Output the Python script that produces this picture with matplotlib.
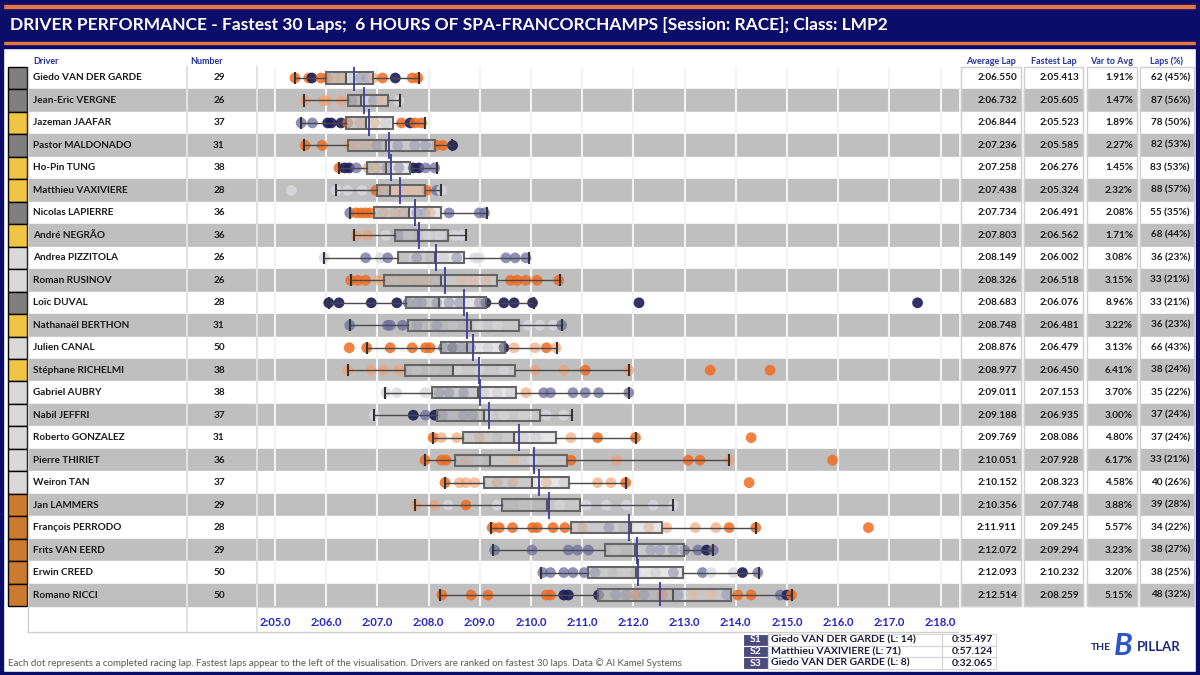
import matplotlib
matplotlib.use('Agg')
import matplotlib.pyplot as plt
from matplotlib.patches import Rectangle

plt.rcParams['font.family'] = ['Lato', 'DejaVu Sans']

title = 'DRIVER PERFORMANCE - Fastest 30 Laps;  6 HOURS OF SPA-FRANCORCHAMPS [Session: RACE]; Class: LMP2'

drivers = ['Giedo VAN DER GARDE', 'Jean-Eric VERGNE', 'Jazeman JAAFAR', 'Pastor MALDONADO',
           'Ho-Pin TUNG', 'Matthieu VAXIVIERE', 'Nicolas LAPIERRE', 'André NEGRÃO',
           'Andrea PIZZITOLA', 'Roman RUSINOV', 'Loïc DUVAL', 'Nathanaël BERTHON',
           'Julien CANAL', 'Stéphane RICHELMI', 'Gabriel AUBRY', 'Nabil JEFFRI',
           'Roberto GONZALEZ', 'Pierre THIRIET', 'Weiron TAN', 'Jan LAMMERS',
           'François PERRODO', 'Frits VAN EERD', 'Erwin CREED', 'Romano RICCI']
numbers = [29, 26, 37, 31, 38, 28, 36, 36, 26, 26, 28, 31, 50, 38, 38, 37, 31, 36, 37, 29, 28, 29, 50, 50]
# couleur de la voiture (G = gris, Y = jaune, L = gris clair, B = bronze)
swatch = 'GGYGYYGYLLGYLYLLLLLBBBBB'
swatch_col = {'G': '#7F7F7F', 'Y': '#F2C443', 'L': '#D9D9D9', 'B': '#CC7A30'}

avg_lap = ['2:06.550', '2:06.732', '2:06.844', '2:07.236', '2:07.258', '2:07.438', '2:07.734', '2:07.803',
           '2:08.149', '2:08.326', '2:08.683', '2:08.748', '2:08.876', '2:08.977', '2:09.011', '2:09.188',
           '2:09.769', '2:10.051', '2:10.152', '2:10.356', '2:11.911', '2:12.072', '2:12.093', '2:12.514']
fastest_lap = ['2:05.413', '2:05.605', '2:05.523', '2:05.585', '2:06.276', '2:05.324', '2:06.491', '2:06.562',
               '2:06.002', '2:06.518', '2:06.076', '2:06.481', '2:06.479', '2:06.450', '2:07.153', '2:06.935',
               '2:08.086', '2:07.928', '2:08.323', '2:07.748', '2:09.245', '2:09.294', '2:10.232', '2:08.259']
var_avg = ['1.91%', '1.47%', '1.89%', '2.27%', '1.45%', '2.32%', '2.08%', '1.71%', '3.08%', '3.15%', '8.96%', '3.22%',
           '3.13%', '6.41%', '3.70%', '3.00%', '4.80%', '6.17%', '4.58%', '3.88%', '5.57%', '3.23%', '3.20%', '5.15%']
laps_pct = ['62 (45%)', '87 (56%)', '78 (50%)', '82 (53%)', '83 (53%)', '88 (57%)', '55 (35%)', '68 (44%)',
            '36 (23%)', '33 (21%)', '33 (21%)', '36 (23%)', '66 (43%)', '38 (24%)', '35 (22%)', '37 (24%)',
            '37 (24%)', '33 (21%)', '40 (26%)', '39 (28%)', '34 (22%)', '38 (27%)', '38 (25%)', '48 (32%)']

lap_times = [
    [125.39, 125.66, 125.72, 125.90, 126.03, 126.18, 126.29, 126.51, 126.66, 126.79, 126.92, 127.10, 127.35, 127.68, 127.79],
    [125.59, 125.94, 126.00, 126.29, 126.51, 126.74, 126.92, 127.07, 127.42],
    [125.51, 125.73, 126.03, 126.10, 126.29, 126.42, 126.66, 126.94, 127.16, 127.47, 127.64, 127.73, 127.86],
    [125.59, 125.92, 126.45, 126.59, 126.79, 126.99, 127.18, 127.40, 127.73, 127.94, 128.16, 128.28, 128.47],
    [126.25, 126.36, 126.45, 126.59, 126.81, 126.97, 127.18, 127.42, 127.70, 127.81, 127.94, 128.12],
    [125.32, 126.20, 126.42, 126.70, 126.97, 127.10, 127.29, 127.45, 127.64, 127.80, 127.96, 128.16, 128.25],
    [126.46, 126.59, 126.68, 126.77, 126.86, 127.12, 127.35, 127.51, 127.77, 127.93, 128.03, 128.40, 128.99, 129.09],
    [126.59, 126.81, 127.16, 127.42, 127.60, 127.99, 128.21, 128.51, 128.64],
    [125.96, 126.77, 127.06, 127.20, 127.51, 127.77, 128.03, 128.29, 128.55, 128.90, 128.99, 129.51, 129.69, 129.90],
    [126.48, 126.62, 126.77, 127.03, 127.25, 127.51, 127.74, 127.97, 128.64, 128.86, 129.12, 129.60, 129.73, 129.90, 130.12, 130.54],
    [126.05, 126.25, 126.88, 127.38, 127.60, 127.77, 127.87, 128.16, 128.40, 128.60, 128.99, 129.12, 129.47, 129.67, 130.03, 132.11, 137.55],
    [126.46, 127.20, 127.25, 127.49, 127.77, 128.16, 128.47, 128.99, 129.34, 129.94, 130.17, 130.43, 130.60],
    [126.45, 126.79, 127.25, 127.68, 127.94, 128.03, 128.29, 128.47, 128.64, 128.82, 129.16, 129.47, 129.67, 130.08, 130.30, 130.49],
    [126.42, 126.88, 127.12, 127.42, 127.77, 128.12, 128.55, 128.99, 129.47, 130.08, 130.64, 131.06, 131.91, 133.50, 134.67],
    [127.16, 127.38, 127.93, 128.21, 128.40, 128.68, 129.08, 129.34, 129.60, 129.90, 130.25, 130.38, 130.82, 131.06, 131.32, 131.91],
    [126.94, 127.70, 127.94, 128.12, 128.28, 128.68, 128.86, 129.16, 129.47, 129.86, 130.30, 130.64],
    [128.09, 128.25, 128.55, 128.99, 129.34, 129.86, 130.10, 130.78, 131.30, 132.04, 134.30],
    [127.93, 128.25, 128.34, 128.73, 128.99, 129.67, 130.03, 130.78, 131.67, 133.07, 133.30, 133.87, 135.89],
    [128.32, 128.60, 128.73, 128.90, 129.34, 129.64, 130.30, 130.64, 131.30, 131.56, 131.85, 134.26],
    [127.75, 128.12, 128.38, 128.73, 129.34, 129.86, 130.56, 131.08, 131.47, 131.86, 132.39, 132.78],
    [129.24, 129.38, 129.64, 130.03, 130.12, 130.43, 130.66, 131.00, 131.52, 131.82, 132.30, 132.65, 133.21, 133.61, 133.87, 134.39, 136.59],
    [129.29, 130.02, 130.73, 130.91, 131.12, 131.65, 132.34, 132.52, 132.78, 133.00, 133.26, 133.43, 133.56],
    [130.23, 130.38, 130.64, 130.82, 131.04, 131.25, 131.60, 132.04, 132.43, 132.78, 133.35, 133.52, 133.95, 134.13, 134.43],
    [128.26, 128.83, 129.16, 130.30, 130.38, 130.64, 130.73, 131.32, 131.65, 131.86, 132.04, 132.21, 132.56, 132.87, 133.17,
     133.52, 133.82, 134.04, 134.30, 134.87, 135.00, 135.09],
]
lap_tones = ['OONOOPPLSSPONOO', 'PPPPSLSPL', 'SSNNNOPPLONOO', 'OOPPPSLSSSOON', 'ONNSPPSSNNSS',
             'LLLLOPPPPPOSL', 'SOOOOPPPSSPSSS', 'PPLSLLLLL', 'LSLSLSLLSLLSSS', 'OOOPPPPPPPPOOOOO',
             'NNNNSSSSSSSNNNNNN', 'SSSSSSLLLLLLS', 'OOOOOOSNSSLNPPOP', 'PPPPLLLLLPPOPOO',
             'LLLSSSLLLPSSSSSS', 'LNSNSSSLLLLL', 'OPPPLLLPOOO', 'OOOPLPLOPOOPO', 'OPPPPPPLPPOO',
             'PPLOLLLLLLLL', 'OOOOOOOPSLPPPPOOO', 'SSSSSLSSSSSNS', 'SSSSSSLLLSSLLNS',
             'OOOOONNNSSOSOSPPSOOSNO']
tone_col = {'O': (0.95, 0.42, 0.12, 0.85), 'P': (0.96, 0.62, 0.42, 0.65), 'N': (0.11, 0.11, 0.35, 0.9),
            'S': (0.42, 0.42, 0.63, 0.75), 'L': (0.85, 0.85, 0.88, 0.8)}

# boîtes à moustaches (s)
box_q1 = [126.00, 126.42, 126.38, 126.42, 126.79, 126.99, 126.94, 127.35, 127.40, 127.12, 127.55, 127.60,
          128.25, 127.53, 128.07, 128.16, 128.67, 128.51, 129.09, 129.44, 130.78, 131.45, 131.12, 131.30]
box_med = [126.38, 126.68, 126.78, 127.16, 127.16, 127.25, 127.61, 127.79, 128.12, 128.25, 128.20, 128.82,
           128.75, 128.47, 128.96, 129.08, 129.67, 129.19, 130.02, 130.31, 131.95, 132.04, 132.06, 132.78]
box_q3 = [126.92, 127.20, 127.31, 128.12, 127.64, 127.93, 128.25, 128.38, 128.70, 129.34, 129.12, 129.77,
          129.49, 129.69, 129.70, 130.17, 130.49, 130.71, 130.75, 130.95, 132.56, 132.98, 132.97, 133.91]
box_lo = [125.39, 125.57, 125.51, 125.57, 126.25, 126.20, 126.46, 126.55, 125.96, 126.48, 126.05, 126.46,
          126.79, 126.42, 127.14, 126.93, 128.08, 127.93, 128.32, 127.73, 129.21, 129.25, 130.19, 128.22]
box_hi = [127.81, 127.44, 127.93, 128.45, 128.16, 128.25, 129.14, 128.73, 129.97, 130.56, 130.05, 130.61,
          130.51, 131.91, 131.91, 130.80, 132.06, 133.87, 131.86, 132.78, 134.39, 133.56, 134.45, 135.09]

tick_secs = list(range(125, 139))
tick_labels = ['2:05.0', '2:06.0', '2:07.0', '2:08.0', '2:09.0', '2:10.0', '2:11.0',
               '2:12.0', '2:13.0', '2:14.0', '2:15.0', '2:16.0', '2:17.0', '2:18.0']

sector_names = ['S1', 'S2', 'S3']
sector_driver = ['Giedo VAN DER GARDE (L: 14)', 'Matthieu VAXIVIERE (L: 71)', 'Giedo VAN DER GARDE (L: 8)']
sector_time = ['0:35.497', '0:57.124', '0:32.065']

footer = ('Each dot represents a completed racing lap. Fastest laps appear to the left of the visualisation. '
          'Drivers are ranked on fastest 30 laps. Data © Al Kamel Systems')


def to_sec(s):
    m, r = s.split(':')
    return int(m) * 60 + float(r)


W, H = 1200, 675
NAVY = '#0C0C6A'
HEAD = '#2430A0'
GREY = '#BFBFBF'
ROW0, PITCH = 78, 22.48
n = len(drivers)


def ry(i):
    return ROW0 + i * PITCH


fig = plt.figure(figsize=(12, 6.75), dpi=100)
bg = fig.add_axes([0, 0, 1, 1])
bg.set_xlim(0, W)
bg.set_ylim(H, 0)
bg.axis('off')

# bandeau du titre
bg.add_patch(Rectangle((0, 0), W, 48, color=NAVY))
bg.add_patch(Rectangle((0, 5), W, 2.5, color='#E8773F'))
bg.add_patch(Rectangle((0, 41.5), W, 2.5, color='#E8773F'))
bg.text(10, 25, title, color='white', fontsize=12.5, fontweight='bold', va='center')

# en-têtes
bg.text(33, 61, 'Driver', color=HEAD, fontsize=6.5, fontweight='bold', va='center')
bg.text(190, 61, 'Number', color=HEAD, fontsize=6.5, fontweight='bold', va='center')
cols = [(961, 1021, 'Average Lap', avg_lap), (1024, 1083, 'Fastest Lap', fastest_lap),
        (1087, 1137, 'Var to Avg', var_avg), (1140, 1194, 'Laps (%)', laps_pct)]
for x0, x1, head, vals in cols:
    bg.text((x0 + x1) / 2, 61, head, color=HEAD, fontsize=6.5, fontweight='bold', va='center', ha='center')

# lignes du tableau
for i in range(n):
    y0 = ry(i) - PITCH / 2
    band = 'white' if i % 2 == 0 else GREY
    bg.add_patch(Rectangle((28, y0), 930, PITCH, color=band, zorder=1))
    bg.add_patch(Rectangle((8, y0), 19, PITCH, facecolor=swatch_col[swatch[i]], edgecolor='black', lw=1, zorder=2))
    bg.text(33, ry(i), drivers[i], fontsize=7.2, fontweight='bold', va='center', color='#1A1A1A', zorder=3)
    bg.text(219, ry(i), str(numbers[i]), fontsize=7.2, fontweight='bold', va='center', ha='center', color='#1A1A1A', zorder=3)
    for x0, x1, head, vals in cols:
        bg.add_patch(Rectangle((x0, y0), x1 - x0, PITCH, color=band, zorder=1))
        bg.text(x1 - 4, ry(i), vals[i], fontsize=7.2, fontweight='bold', va='center', ha='right', color='#1A1A1A', zorder=3)

top, bot = ry(0) - PITCH / 2, ry(n - 1) + PITCH / 2
for x in (187, 257):
    bg.plot([x, x], [top, 632], color='#E2E2E2', lw=1.5, zorder=2)
bg.plot([28, 28], [top, 632], color='#CFCFCF', lw=1, zorder=2)
bg.plot([28, 958], [632, 632], color='#CFCFCF', lw=1, zorder=2)
bg.plot([258, 958], [bot + 1, bot + 1], color='#D5D5D5', lw=1, zorder=2)
for x0, x1, head, vals in cols:
    bg.add_patch(Rectangle((x0, top), x1 - x0, bot - top, fill=False, edgecolor='#CFCFCF', lw=1, zorder=2))

# graphique
ch = fig.add_axes([258 / W, 1 - bot / H, 700 / W, (bot - top) / H], zorder=2)
ch.patch.set_alpha(0)
for i in range(n):
    ch.scatter(lap_times[i], [i] * len(lap_times[i]), s=60, c=[tone_col[t] for t in lap_tones[i]], lw=0, zorder=2)
ch.barh(range(n), [m - q for m, q in zip(box_med, box_q1)], left=box_q1, height=0.5,
        color=(0.35, 0.35, 0.35, 0.35), lw=0, zorder=3)
stats = [dict(med=box_med[i], q1=box_q1[i], q3=box_q3[i], whislo=box_lo[i], whishi=box_hi[i], fliers=[])
         for i in range(n)]
ch.bxp(stats, positions=range(n), widths=0.5, orientation='horizontal', patch_artist=True, showfliers=False,
       boxprops=dict(facecolor=(0.82, 0.82, 0.82, 0.55), edgecolor='#666666', lw=1.5),
       medianprops=dict(color='#555555', lw=1.5), whiskerprops=dict(color='#4A4A4A', lw=1),
       capprops=dict(color='#333333', lw=1.5), capwidths=0.45, manage_ticks=False, zorder=3)
means = [to_sec(a) for a in avg_lap]
ch.vlines(means, [i - 0.6 for i in range(n)], [i + 0.6 for i in range(n)], colors='#3B3B9A', lw=1.3, zorder=4)

ch.set_xlim(125 + (258 - 275) / 51.2, 125 + (958 - 275) / 51.2)
ch.set_ylim(n - 0.5, -0.5)
ch.set_xticks(tick_secs)
ch.set_xticklabels(tick_labels)
ch.set_yticks([])
ch.tick_params(axis='x', length=0, pad=8, labelcolor='#2222C8', labelsize=8)
for lbl in ch.get_xticklabels():
    lbl.set_fontweight('bold')
ch.grid(axis='x', color='#F3F3F3', lw=1.5)
ch.set_axisbelow(True)
for sp in ch.spines.values():
    sp.set_visible(False)

# pied de page
bg.text(8, 663, footer, fontsize=7, color='#595959', va='center')

# meilleurs secteurs
for k in range(3):
    y0 = 634 + k * 11.7
    bg.add_patch(Rectangle((743, y0), 25, 11.7, facecolor='#4B4B7E', edgecolor='white', lw=0.8))
    bg.add_patch(Rectangle((768, y0), 174, 11.7, fill=False, edgecolor='#D5D5D5', lw=0.8))
    bg.add_patch(Rectangle((942, y0), 54, 11.7, fill=False, edgecolor='#D5D5D5', lw=0.8))
    bg.text(755.5, y0 + 5.9, sector_names[k], color='white', fontsize=7.5, fontweight='bold', ha='center', va='center')
    bg.text(771, y0 + 5.9, sector_driver[k], color='#1A1A3A', fontsize=7.5, fontweight='bold', va='center')
    bg.text(993, y0 + 5.9, sector_time[k], color='#1A1A3A', fontsize=7.5, fontweight='bold', va='center', ha='right')

# logo
bg.text(1091, 647, 'THE', color='#1C2A78', fontsize=7.5, fontweight='bold', va='center')
bg.text(1123, 646, 'B', color='#2B55C8', fontsize=22, fontweight='bold', style='italic', va='center', ha='center')
bg.text(1137, 647, 'PILLAR', color='#1C2A78', fontsize=9.5, fontweight='bold', va='center')

# cadre
bg.add_patch(Rectangle((0, 0), 3, H, color=NAVY))
bg.add_patch(Rectangle((W - 4, 0), 4, H, color=NAVY))
bg.add_patch(Rectangle((0, H - 3), W, 3, color=NAVY))

fig.savefig('out.png', dpi=100)
